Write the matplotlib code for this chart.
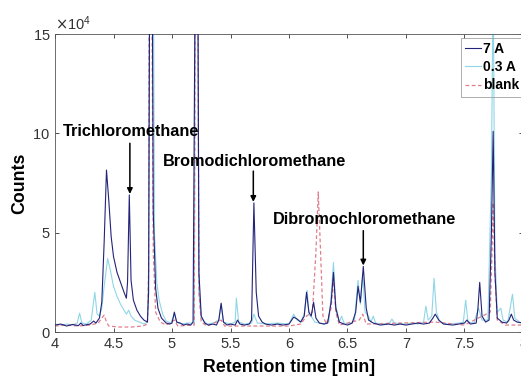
import numpy as np
import matplotlib
matplotlib.use("Agg")
import matplotlib.pyplot as plt
from matplotlib.ticker import ScalarFormatter, FormatStrFormatter

plt.rcParams['font.family'] = ['Liberation Sans', 'DejaVu Sans']

# chromatogram traces, counts in units of 1e4
t_7a = [4.00, 4.05, 4.10, 4.15, 4.20, 4.22, 4.24, 4.30, 4.33, 4.35, 4.38, 4.40, 4.42, 4.44, 4.46,
        4.48, 4.50, 4.53, 4.56, 4.59, 4.61, 4.62, 4.635, 4.65, 4.67, 4.70, 4.73, 4.76, 4.79, 4.80,
        4.81, 4.83, 4.84, 4.86, 4.88, 4.91, 4.95, 4.98, 5.00, 5.02, 5.04, 5.07, 5.10, 5.13, 5.16,
        5.18, 5.20, 5.22, 5.23, 5.25, 5.28, 5.31, 5.35, 5.38, 5.40, 5.42, 5.44, 5.47, 5.50, 5.54,
        5.56, 5.58, 5.62, 5.66, 5.68, 5.70, 5.72, 5.74, 5.77, 5.80, 5.85, 5.90, 5.95, 6.00, 6.04,
        6.07, 6.10, 6.13, 6.15, 6.17, 6.19, 6.21, 6.23, 6.26, 6.30, 6.33, 6.36, 6.38, 6.40, 6.43,
        6.47, 6.50, 6.54, 6.57, 6.59, 6.61, 6.635, 6.66, 6.68, 6.72, 6.78, 6.85, 6.90, 6.95, 7.00,
        7.05, 7.10, 7.15, 7.20, 7.23, 7.25, 7.28, 7.32, 7.40, 7.45, 7.50, 7.52, 7.55, 7.60, 7.615,
        7.63, 7.65, 7.68, 7.71, 7.73, 7.745, 7.76, 7.78, 7.82, 7.86, 7.88, 7.90, 7.92, 7.95, 8.00]
c_7a = [0.35, 0.40, 0.30, 0.38, 0.32, 0.45, 0.33, 0.40, 0.55, 0.45, 0.70, 1.5, 4.5, 8.15, 6.6,
        4.8, 3.8, 3.0, 2.5, 2.0, 1.7, 2.5, 6.9, 2.6, 1.6, 1.1, 0.8, 0.6, 0.5, 2.0,
        20, 20, 6.0, 2.2, 1.2, 0.7, 0.45, 0.40, 0.45, 1.0, 0.5, 0.45, 0.35, 0.40, 0.35,
        0.5, 20, 20, 3.0, 0.8, 0.45, 0.35, 0.40, 0.35, 0.6, 1.45, 0.5, 0.35, 0.40, 0.35,
        0.6, 0.4, 0.35, 0.40, 0.6, 6.5, 2.0, 0.8, 0.5, 0.40, 0.35, 0.40, 0.35, 0.40, 0.75,
        0.65, 0.5, 0.8, 2.0, 1.0, 0.8, 1.5, 0.7, 0.45, 0.40, 0.45, 1.5, 3.0, 1.2, 0.5,
        0.4, 0.35, 0.45, 1.0, 2.3, 1.5, 3.3, 1.2, 0.6, 0.45, 0.35, 0.40, 0.35, 0.40, 0.35,
        0.40, 0.45, 0.40, 0.45, 0.7, 0.9, 0.6, 0.4, 0.35, 0.40, 0.45, 0.6, 0.4, 0.45, 1.2,
        2.5, 0.8, 0.5, 0.6, 5.0, 10.1, 3.0, 0.7, 0.5, 0.45, 0.6, 0.9, 0.6, 0.5, 0.45]

t_03a = [4.00, 4.05, 4.10, 4.15, 4.19, 4.21, 4.23, 4.27, 4.31, 4.34, 4.36, 4.38, 4.40, 4.42, 4.45,
         4.47, 4.50, 4.53, 4.56, 4.59, 4.61, 4.63, 4.65, 4.68, 4.72, 4.76, 4.79, 4.80, 4.81, 4.84,
         4.85, 4.87, 4.89, 4.92, 4.95, 4.99, 5.02, 5.04, 5.08, 5.13, 5.19, 5.20, 5.22, 5.23, 5.25,
         5.30, 5.35, 5.40, 5.42, 5.44, 5.50, 5.54, 5.55, 5.57, 5.62, 5.68, 5.70, 5.73, 5.80, 5.90,
         6.00, 6.04, 6.07, 6.10, 6.13, 6.155, 6.17, 6.20, 6.22, 6.26, 6.30, 6.34, 6.36, 6.38, 6.40,
         6.43, 6.45, 6.47, 6.52, 6.56, 6.59, 6.61, 6.63, 6.65, 6.68, 6.70, 6.72, 6.74, 6.80, 6.86,
         6.88, 6.90, 7.00, 7.05, 7.10, 7.15, 7.17, 7.19, 7.22, 7.24, 7.26, 7.29, 7.35, 7.45, 7.49,
         7.51, 7.53, 7.58, 7.62, 7.65, 7.70, 7.73, 7.745, 7.76, 7.78, 7.81, 7.83, 7.87, 7.91, 7.93,
         7.97, 8.00]
c_03a = [0.40, 0.35, 0.40, 0.35, 0.45, 0.95, 0.45, 0.40, 0.6, 2.0, 0.9, 0.8, 1.2, 2.3, 3.7,
         3.2, 2.3, 1.8, 1.4, 1.1, 0.9, 1.1, 0.8, 0.6, 0.5, 0.4, 0.5, 3.0, 20, 20,
         5.0, 2.5, 1.6, 0.9, 0.55, 0.45, 0.9, 0.5, 0.40, 0.45, 0.45, 20, 20, 2.0, 0.7,
         0.4, 0.45, 0.6, 1.4, 0.5, 0.4, 0.5, 1.7, 0.5, 0.4, 0.45, 0.9, 0.45, 0.4, 0.45,
         0.40, 0.9, 0.6, 0.5, 0.9, 2.1, 0.9, 0.7, 0.5, 0.45, 0.4, 0.5, 1.8, 3.5, 1.3,
         0.5, 0.8, 0.45, 0.4, 0.6, 2.6, 1.4, 2.9, 1.0, 0.8, 0.5, 0.8, 0.45, 0.4, 0.45,
         0.65, 0.45, 0.4, 0.45, 0.4, 0.5, 1.3, 0.6, 0.8, 2.7, 1.0, 0.5, 0.4, 0.45, 0.5,
         1.6, 0.5, 0.45, 1.2, 0.6, 0.6, 8.0, 18, 4.0, 1.0, 1.2, 0.6, 0.5, 1.9, 0.7,
         0.5, 0.45]

t_blank = [4.00, 4.10, 4.20, 4.30, 4.37, 4.40, 4.42, 4.44, 4.46, 4.55, 4.65, 4.75, 4.79, 4.80, 4.805,
           4.825, 4.84, 4.86, 4.90, 4.95, 5.02, 5.05, 5.19, 5.20, 5.22, 5.23, 5.25, 5.30, 5.42, 5.45,
           5.70, 6.00, 6.10, 6.15, 6.20, 6.23, 6.25, 6.27, 6.29, 6.32, 6.36, 6.38, 6.40, 6.43, 6.60,
           6.63, 6.66, 7.25, 7.50, 7.72, 7.735, 7.745, 7.76, 7.78, 7.85, 8.00]
c_blank = [0.30, 0.35, 0.30, 0.35, 0.45, 0.7, 0.85, 0.5, 0.3, 0.25, 0.25, 0.3, 0.4, 3.0, 20,
           20, 4.0, 1.0, 0.5, 0.35, 0.6, 0.3, 0.35, 20, 20, 2.0, 0.5, 0.3, 0.6, 0.3,
           0.3, 0.3, 0.4, 0.8, 1.0, 4.0, 7.05, 4.0, 0.8, 0.4, 1.2, 2.7, 1.0, 0.35, 0.6,
           0.9, 0.4, 0.5, 0.35, 1.0, 4.0, 6.5, 3.0, 0.6, 0.35, 0.35]

series_labels = ["7 A", "0.3 A", "blank"]

# compound labels (1e4 counts)
compounds = ["Trichloromethane", "Bromodichloromethane", "Dibromochloromethane"]
comp_t = [4.64, 5.695, 6.635]
label_x = [4.648, 5.706, 6.645]
label_y = [10.1, 8.6, 5.64]
arrow_from = [9.5, 8.1, 5.1]
arrow_to = [6.95, 6.55, 3.35]

fig = plt.figure(figsize=(5.21, 3.78), dpi=100)
ax = fig.add_axes([55 / 521, 46 / 378, 468 / 521, 298 / 378])

ax.plot(t_7a, np.array(c_7a) * 1e4, color='#23237a', lw=0.8, label=series_labels[0], zorder=3)
ax.plot(t_03a, np.array(c_03a) * 1e4, color='#8fd6e6', lw=0.8, label=series_labels[1], zorder=2)
ax.plot(t_blank, np.array(c_blank) * 1e4, color='#e07f8c', lw=0.9, ls=(0, (3, 2)),
        label=series_labels[2], zorder=2.5)

for name, tx, lx, ly, a0, a1 in zip(compounds, comp_t, label_x, label_y, arrow_from, arrow_to):
    ax.text(lx, ly * 1e4, name, ha='center', va='center', fontsize=11.7, fontweight='bold')
    ax.annotate('', xy=(tx, a1 * 1e4), xytext=(tx, a0 * 1e4),
                arrowprops=dict(arrowstyle='-|>', color='k', lw=1.1, mutation_scale=8,
                                shrinkA=0, shrinkB=0))

ax.set_xlim(4, 8)
ax.set_ylim(0, 15e4)
ax.set_xticks(np.arange(4, 8.01, 0.5))
ax.set_yticks([0, 5e4, 10e4, 15e4])
ax.xaxis.set_major_formatter(FormatStrFormatter('%g'))
fmt = ScalarFormatter(useMathText=True)
fmt.set_powerlimits((4, 4))
ax.yaxis.set_major_formatter(fmt)
ax.yaxis.get_offset_text().set_fontsize(10.5)
ax.yaxis.get_offset_text().set_color('#333333')

ax.tick_params(direction='in', top=True, right=True, labelsize=10.5, length=3,
               colors='#333333', width=0.6)
for s in ax.spines.values():
    s.set_color('#555555')
    s.set_linewidth(0.6)

ax.set_xlabel('Retention time [min]', fontsize=12.8, fontweight='bold', labelpad=6)
ax.set_ylabel('Counts', fontsize=12.8, fontweight='bold', labelpad=3)

leg = ax.legend(loc='upper right', bbox_to_anchor=(523 / 521, 1 - 38 / 378),
                bbox_transform=fig.transFigure, prop=dict(weight='bold', size=10),
                handlelength=1.1, handletextpad=0.15, labelspacing=0.3, borderpad=0.3,
                borderaxespad=0, fancybox=False)
leg.get_frame().set_facecolor('none')
leg.get_frame().set_edgecolor('#999999')
leg.get_frame().set_linewidth(0.7)

fig.savefig('out.png', dpi=100)
